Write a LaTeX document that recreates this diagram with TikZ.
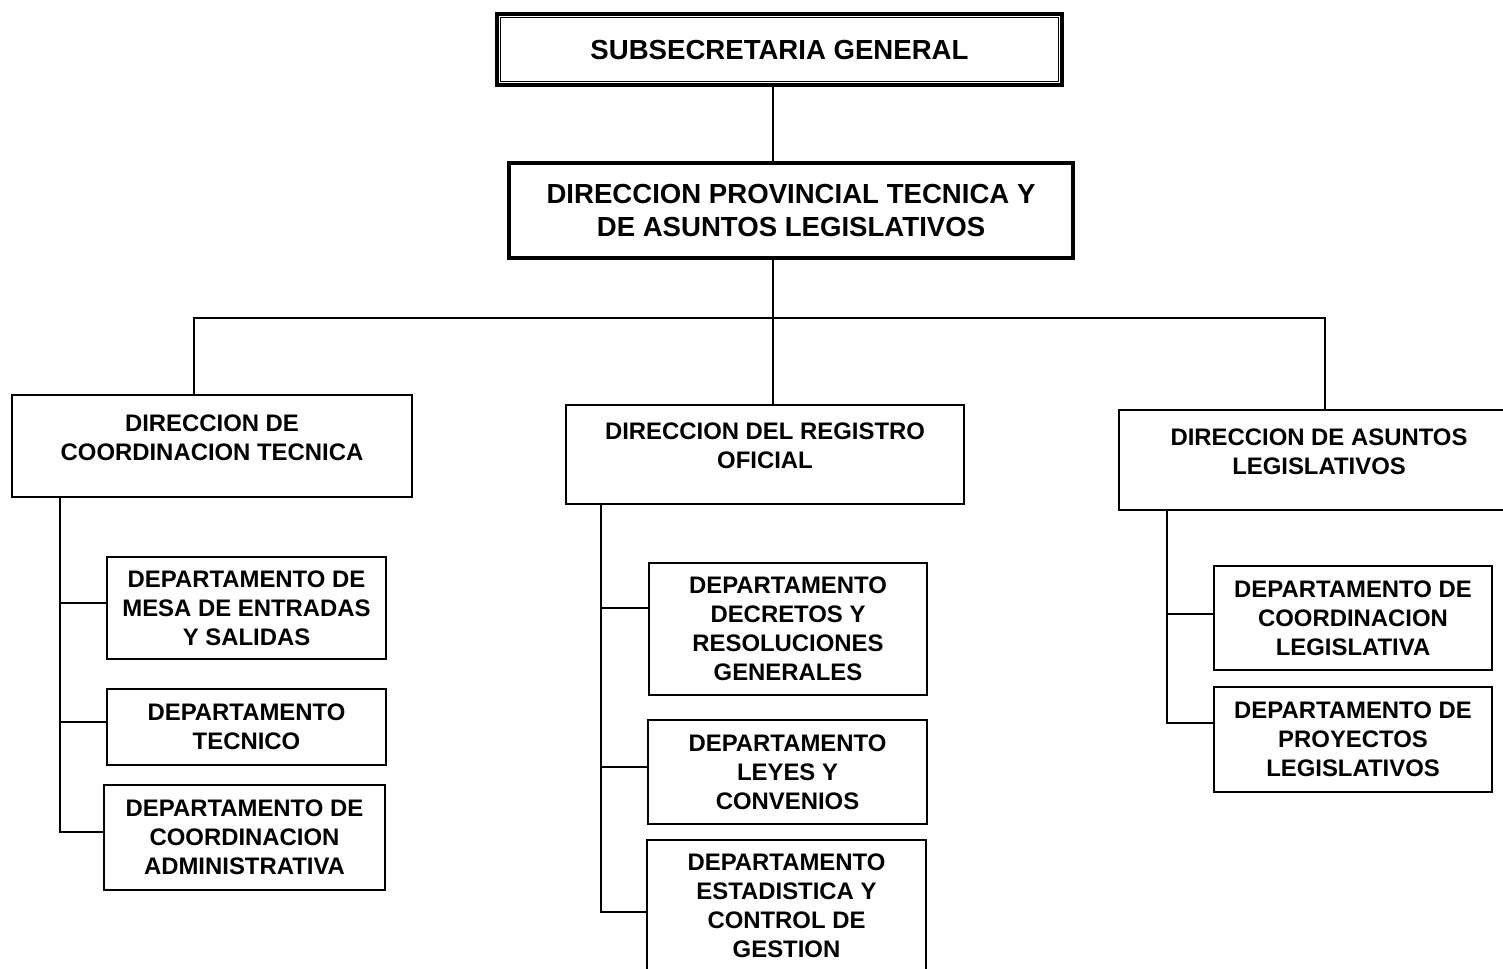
\documentclass[tikz,border=0pt]{standalone}
\usepackage{fontspec}
\setmainfont{Liberation Sans}
\newcommand{\smallText}{\fontsize{13.6}{16.5}\selectfont\bfseries}
\newcommand{\bigText}{\fontsize{15.7}{18.8}\selectfont\bfseries}
\newcommand{\liftText}[1]{\raisebox{3.4pt}[\height][\depth]{\begin{tabular}{@{}c@{}}#1\end{tabular}}}
\tikzset{
  orgbox/.style={draw, align=center, inner sep=0pt, line width=1.1pt},
  deptbox/.style={orgbox, font=\smallText},
  dirbox/.style={orgbox, font=\smallText},
  provbox/.style={orgbox, font=\bigText, line width=2pt},
  topbox/.style={orgbox, font=\bigText, line width=2.6pt},
  link/.style={line width=1.1pt}
}

\begin{document}
\begin{tikzpicture}[x=0.02cm, y=-0.02cm]
\useasboundingbox (0,0) rectangle (1503,968);
% top levels
\node[topbox, minimum width=11.3cm, minimum height=1.42cm] (top) at (779.5,49.5) {SUBSECRETARIA GENERAL};
\draw[line width=0.8pt] ([shift={(6,6)}]top.north west) rectangle ([shift={(-6,-6)}]top.south east);
\node[provbox, minimum width=11.28cm, minimum height=1.9cm] (prov) at (791,210.5)
  {DIRECCION PROVINCIAL TECNICA Y\\DE ASUNTOS LEGISLATIVOS};
% direcciones
\node[dirbox, minimum width=8cm, minimum height=2.04cm] (ldir) at (212,446)
  {\liftText{DIRECCION DE\\COORDINACION TECNICA}};
\node[dirbox, minimum width=7.96cm, minimum height=1.98cm] (mdir) at (765,454.5)
  {\liftText{DIRECCION DEL REGISTRO\\OFICIAL}};
\node[dirbox, minimum width=8cm, minimum height=2cm] (rdir) at (1319,460)
  {\liftText{DIRECCION DE ASUNTOS\\LEGISLATIVOS}};
% departamentos
\node[deptbox, minimum width=5.58cm, minimum height=2.04cm] (ld1) at (246.5,608)
  {DEPARTAMENTO DE\\MESA DE ENTRADAS\\Y SALIDAS};
\node[deptbox, minimum width=5.58cm, minimum height=1.52cm] (ld2) at (246.5,727)
  {DEPARTAMENTO\\TECNICO};
\node[deptbox, minimum width=5.62cm, minimum height=2.1cm] (ld3) at (244.5,837.5)
  {DEPARTAMENTO DE\\COORDINACION\\ADMINISTRATIVA};
\node[deptbox, minimum width=5.56cm, minimum height=2.64cm] (md1) at (788,629)
  {DEPARTAMENTO\\DECRETOS Y\\RESOLUCIONES\\GENERALES};
\node[deptbox, minimum width=5.58cm, minimum height=2.08cm] (md2) at (787.5,772)
  {DEPARTAMENTO\\LEYES Y\\CONVENIOS};
\node[deptbox, minimum width=5.58cm, minimum height=2.64cm] (md3) at (786.5,906)
  {DEPARTAMENTO\\ESTADISTICA Y\\CONTROL DE\\GESTION};
\node[deptbox, minimum width=5.56cm, minimum height=2.08cm] (rd1) at (1353,618)
  {DEPARTAMENTO DE\\COORDINACION\\LEGISLATIVA};
\node[deptbox, minimum width=5.56cm, minimum height=2.1cm] (rd2) at (1353,739.5)
  {DEPARTAMENTO DE\\PROYECTOS\\LEGISLATIVOS};
% connectors
\coordinate (trunk) at (773,0);
\coordinate (lbus) at (194,318);
\coordinate (rbus) at (1325,318);
\coordinate (lb1) at (60,603);
\coordinate (lb2) at (60,722);
\coordinate (lb3) at (60,832);
\coordinate (mb1) at (601,608);
\coordinate (mb2) at (601,767);
\coordinate (mb3) at (601,912);
\coordinate (rb1) at (1167,614);
\coordinate (rb2) at (1167,723);
\draw[link] (top.south -| trunk) -- (prov.north -| trunk);
\draw[link] (prov.south -| trunk) -- (mdir.north -| trunk);
\draw[link] (lbus |- ldir.north) -- (lbus) -- (rbus) -- (rbus |- rdir.north);
\draw[link] (ldir.south -| lb3) -- (lb3) -- (lb3 -| ld3.west);
\draw[link] (lb1) -- (lb1 -| ld1.west);
\draw[link] (lb2) -- (lb2 -| ld2.west);
\draw[link] (mdir.south -| mb3) -- (mb3) -- (mb3 -| md3.west);
\draw[link] (mb1) -- (mb1 -| md1.west);
\draw[link] (mb2) -- (mb2 -| md2.west);
\draw[link] (rdir.south -| rb2) -- (rb2) -- (rb2 -| rd2.west);
\draw[link] (rb1) -- (rb1 -| rd1.west);
\end{tikzpicture}
\end{document}
